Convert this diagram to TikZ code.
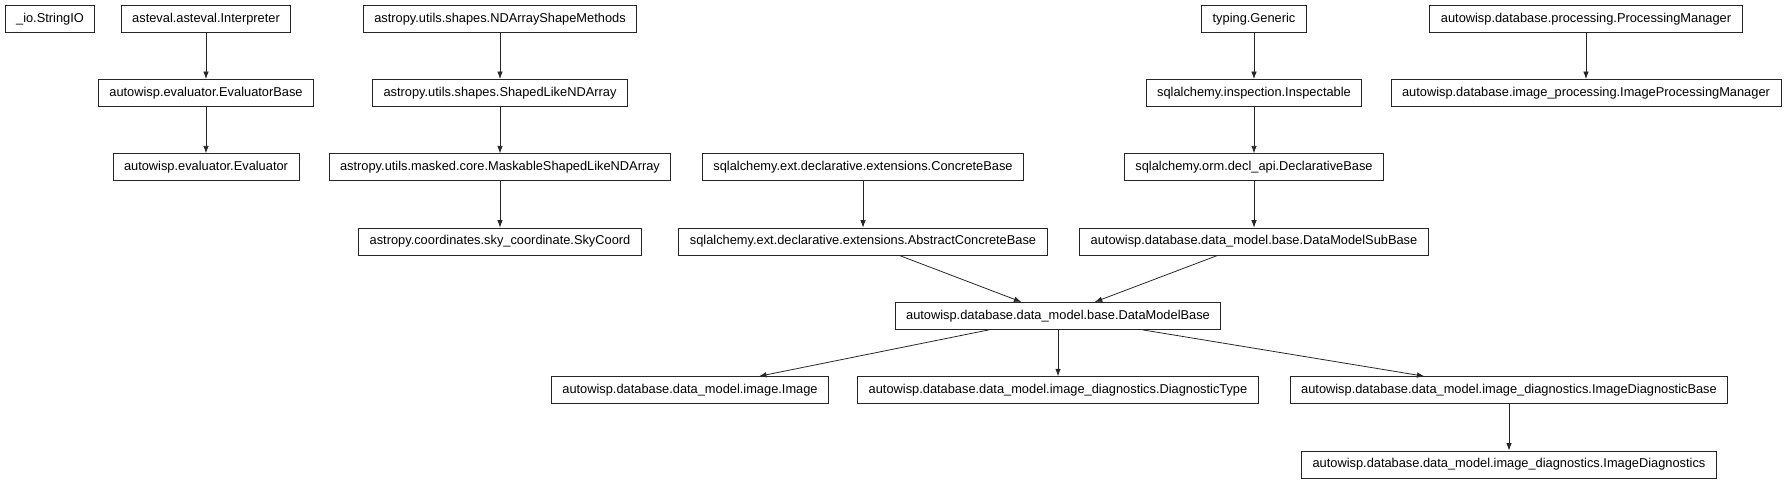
\documentclass[tikz,border=0pt]{standalone}
\usepackage{fontspec}
\setmainfont{Liberation Sans}
\usetikzlibrary{arrows.meta}
\newcommand{\clsfont}{\fontsize{7.3}{8.8}\selectfont}
\tikzset{
	cls/.style={draw=black!85, line width=0.5pt, inner xsep=0.22cm, inner ysep=0pt, minimum height=0.54cm, font=\clsfont},
	inh/.style={-{Latex[length=1.5mm,width=1.1mm]}, line width=0.45pt, draw=black!85}
}
\begin{document}
\begin{tikzpicture}[x=0.02cm,y=-0.02cm]
	\useasboundingbox (0,0) rectangle (1788,485);
		\node[cls] (strio) at (50,18.7) {\_io.StringIO};
		\node[cls] (interp) at (206,18.7) {asteval.asteval.Interpreter};
		\node[cls] (ndshape) at (500,18.7) {astropy.utils.shapes.NDArrayShapeMethods};
		\node[cls] (generic) at (1254,18.7) {typing.Generic};
		\node[cls] (procmgr) at (1586,18.7) {autowisp.database.processing.ProcessingManager};
		\node[cls] (evalbase) at (206,93) {autowisp.evaluator.EvaluatorBase};
		\node[cls] (shaped) at (500,93) {astropy.utils.shapes.ShapedLikeNDArray};
		\node[cls] (inspect) at (1254,93) {sqlalchemy.inspection.Inspectable};
		\node[cls] (imgprocmgr) at (1586,93) {autowisp.database.image\_processing.ImageProcessingManager};
		\node[cls] (evaluator) at (206,167.3) {autowisp.evaluator.Evaluator};
		\node[cls] (maskable) at (500,167.3) {astropy.utils.masked.core.MaskableShapedLikeNDArray};
		\node[cls] (concrete) at (863,167.3) {sqlalchemy.ext.declarative.extensions.ConcreteBase};
		\node[cls] (declbase) at (1254,167.3) {sqlalchemy.orm.decl\_api.DeclarativeBase};
		\node[cls] (skycoord) at (500,241.6) {astropy.coordinates.sky\_coordinate.SkyCoord};
		\node[cls] (absconcrete) at (863,241.6) {sqlalchemy.ext.declarative.extensions.AbstractConcreteBase};
		\node[cls] (subbase) at (1254,241.6) {autowisp.database.data\_model.base.DataModelSubBase};
		\node[cls] (dmbase) at (1058,315.9) {autowisp.database.data\_model.base.DataModelBase};
		\node[cls] (image) at (690,390.2) {autowisp.database.data\_model.image.Image};
		\node[cls] (diagtype) at (1058,390.2) {autowisp.database.data\_model.image\_diagnostics.DiagnosticType};
		\node[cls] (imgdiagbase) at (1509,390.2) {autowisp.database.data\_model.image\_diagnostics.ImageDiagnosticBase};
		\node[cls] (imgdiag) at (1509,464.5) {autowisp.database.data\_model.image\_diagnostics.ImageDiagnostics};
			\draw[inh] (interp)--(evalbase);
			\draw[inh] (evalbase)--(evaluator);
			\draw[inh] (ndshape)--(shaped);
			\draw[inh] (shaped)--(maskable);
			\draw[inh] (maskable)--(skycoord);
			\draw[inh] (concrete)--(absconcrete);
			\draw[inh] (generic)--(inspect);
			\draw[inh] (inspect)--(declbase);
			\draw[inh] (declbase)--(subbase);
			\draw[inh] (procmgr)--(imgprocmgr);
			\draw[inh] (absconcrete)--(dmbase);
			\draw[inh] (subbase)--(dmbase);
			\draw[inh] (dmbase)--(image);
			\draw[inh] (dmbase)--(diagtype);
			\draw[inh] (dmbase)--(imgdiagbase);
			\draw[inh] (imgdiagbase)--(imgdiag);
\end{tikzpicture}
\end{document}
